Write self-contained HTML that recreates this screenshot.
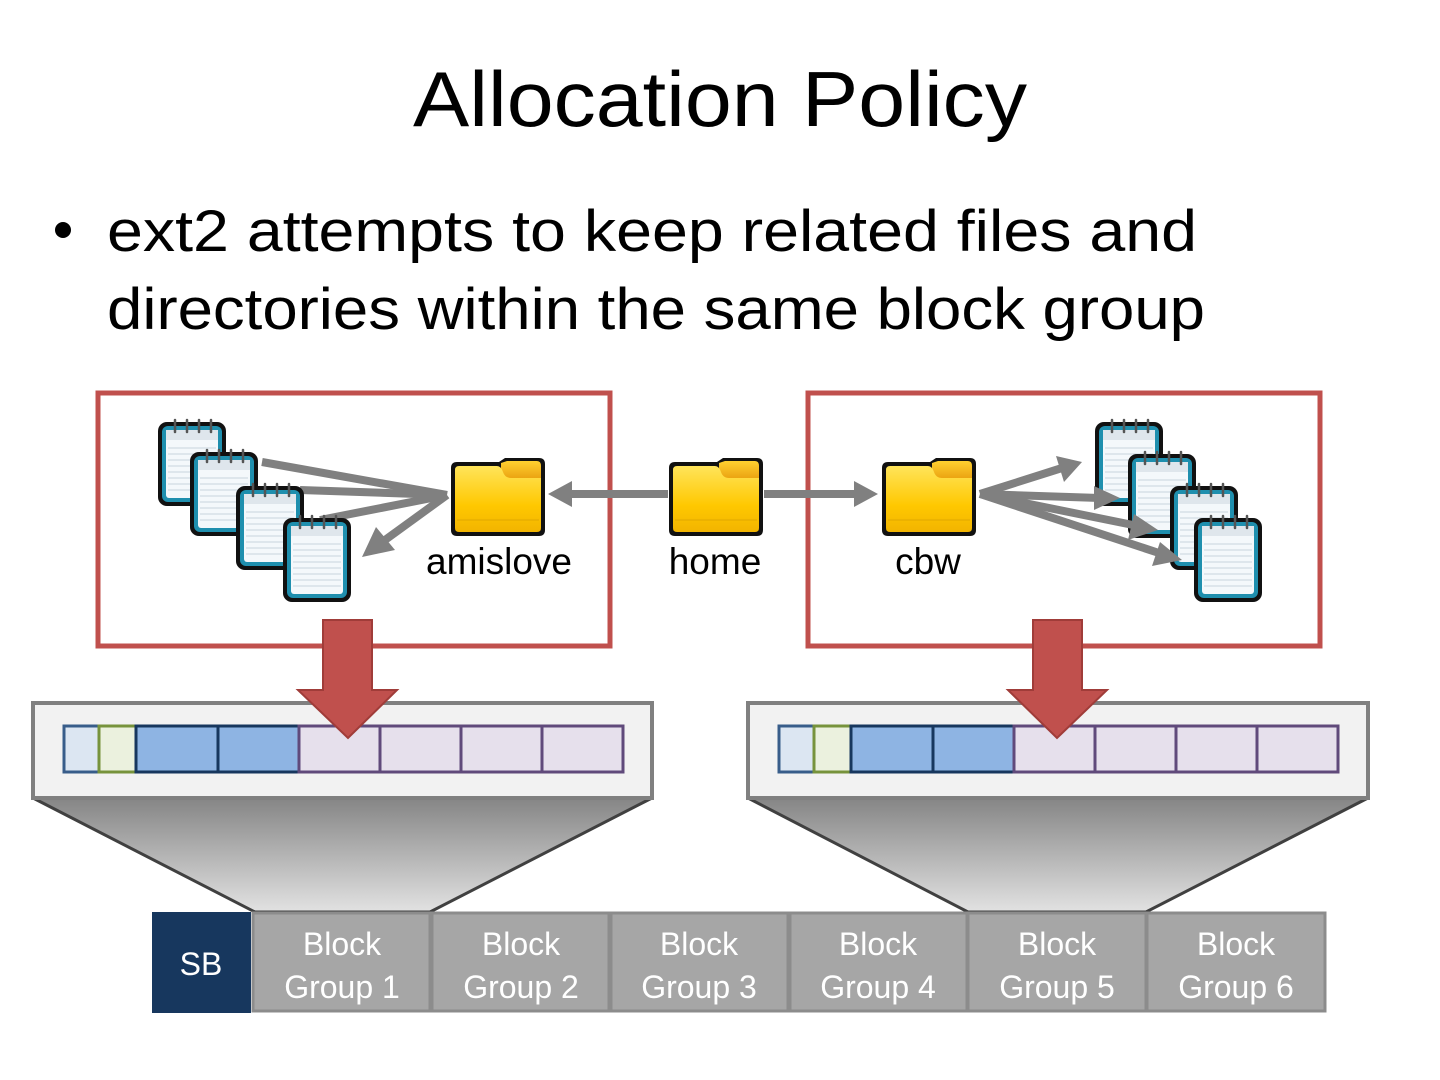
<!DOCTYPE html>
<html><head><meta charset="utf-8"><style>
html,body{margin:0;padding:0;background:#fff;width:1440px;height:1080px;overflow:hidden}
svg{display:block}
text{font-family:"Liberation Sans",sans-serif}
</style></head><body>
<svg width="1440" height="1080" viewBox="0 0 1440 1080" xmlns="http://www.w3.org/2000/svg">
<defs>
<linearGradient id="trap" x1="0" y1="0" x2="0" y2="1">
<stop offset="0" stop-color="#858585"/><stop offset="1" stop-color="#e2e2e2"/></linearGradient>
<linearGradient id="fold" x1="0" y1="0" x2="0" y2="1">
<stop offset="0" stop-color="#ffe45a"/><stop offset="0.6" stop-color="#ffc800"/><stop offset="1" stop-color="#f2b400"/></linearGradient>
<linearGradient id="tab" x1="0" y1="0" x2="0" y2="1">
<stop offset="0" stop-color="#ffd030"/><stop offset="1" stop-color="#e08a00"/></linearGradient>
<g id="note">
<rect x="0" y="4" width="68" height="84" rx="9" fill="#111"/>
<rect x="4" y="8" width="60" height="76" rx="6" fill="#1f8fae"/>
<rect x="8" y="12" width="52" height="68" rx="3" fill="#f4f8fb"/>
<rect x="8" y="12" width="52" height="10" fill="#dfe6ec"/>
<g stroke="#c8d4dc" stroke-width="1">
<line x1="10" y1="30" x2="58" y2="30"/><line x1="10" y1="36" x2="58" y2="36"/><line x1="10" y1="42" x2="58" y2="42"/><line x1="10" y1="48" x2="58" y2="48"/><line x1="10" y1="54" x2="58" y2="54"/><line x1="10" y1="60" x2="58" y2="60"/><line x1="10" y1="66" x2="58" y2="66"/><line x1="10" y1="72" x2="58" y2="72"/></g>
<g stroke="#555" stroke-width="2.5" stroke-linecap="round">
<line x1="17" y1="2" x2="17" y2="14"/><line x1="29" y1="2" x2="29" y2="14"/><line x1="41" y1="2" x2="41" y2="14"/><line x1="53" y1="2" x2="53" y2="14"/></g>
</g>
<g id="folder">
<path d="M2 10 Q2 4 8 4 L50 4 L56 0 L90 0 Q96 0 96 6 L96 72 Q96 78 90 78 L8 78 Q2 78 2 72 Z" fill="#111"/>
<path d="M52 5 L58 3 L88 3 Q92 3 92 8 L92 30 L52 30 Z" fill="url(#tab)"/>
<path d="M6 12 Q6 8 10 8 L48 8 Q52 8 54 14 Q56 20 62 20 L92 20 L92 70 Q92 74 88 74 L10 74 Q6 74 6 70 Z" fill="url(#fold)"/>
<line x1="8" y1="62" x2="90" y2="62" stroke="#e0a800" stroke-width="1"/>
</g>
</defs>

<text x="720" y="126" font-size="78" text-anchor="middle" textLength="614" lengthAdjust="spacingAndGlyphs" fill="#000">Allocation Policy</text>
<circle cx="63" cy="230" r="8" fill="#000"/>
<text x="107" y="251" font-size="58" textLength="1090" lengthAdjust="spacingAndGlyphs" fill="#000">ext2 attempts to keep related files and</text>
<text x="107" y="329" font-size="58" textLength="1098" lengthAdjust="spacingAndGlyphs" fill="#000">directories within the same block group</text>

<!-- red boxes -->
<rect x="98" y="393" width="512" height="253" fill="none" stroke="#c0504d" stroke-width="5"/>
<rect x="808" y="393" width="512" height="253" fill="none" stroke="#c0504d" stroke-width="5"/>

<!-- left arrows (behind notes) -->
<g stroke="#808080" stroke-width="8" fill="#808080">
<line x1="447" y1="495" x2="262" y2="462"/>
<line x1="447" y1="495" x2="300" y2="490"/>
<line x1="447" y1="495" x2="320" y2="520"/>
<line x1="447" y1="495" x2="385" y2="540"/>
</g>
<polygon points="362,557 376,527 395,550" fill="#808080"/>
<use href="#note" x="158" y="418"/>
<use href="#note" x="190" y="448"/>
<use href="#note" x="236" y="482"/>
<use href="#note" x="283" y="514"/>

<!-- home arrows -->
<line x1="568" y1="494" x2="668" y2="494" stroke="#808080" stroke-width="8"/>
<polygon points="548,494 572,481 572,507" fill="#808080"/>
<line x1="764" y1="494" x2="858" y2="494" stroke="#808080" stroke-width="8"/>
<polygon points="878,494 854,481 854,507" fill="#808080"/>

<use href="#folder" x="449" y="458"/>
<use href="#folder" x="667" y="458"/>
<use href="#folder" x="880" y="458"/>
<text x="499" y="574" font-size="37" text-anchor="middle" fill="#000">amislove</text>
<text x="715" y="574" font-size="37" text-anchor="middle" fill="#000">home</text>
<text x="928" y="574" font-size="37" text-anchor="middle" fill="#000">cbw</text>

<!-- right notes + arrows -->
<use href="#note" x="1095" y="418"/>
<g stroke="#808080" stroke-width="8">
<line x1="980" y1="494" x2="1062" y2="468"/>
<line x1="980" y1="494" x2="1100" y2="498"/>
</g>
<polygon points="1082,462 1056,456 1064,482" fill="#808080"/>
<polygon points="1120,498 1094,486 1094,510" fill="#808080"/>
<use href="#note" x="1128" y="450"/>
<g stroke="#808080" stroke-width="8">
<line x1="980" y1="494" x2="1138" y2="526"/>
</g>
<polygon points="1158,530 1134,514 1128,540" fill="#808080"/>
<use href="#note" x="1170" y="482"/>
<g stroke="#808080" stroke-width="8">
<line x1="980" y1="494" x2="1162" y2="554"/>
</g>
<polygon points="1182,560 1160,542 1152,566" fill="#808080"/>
<use href="#note" x="1194" y="514"/>

<!-- trapezoids -->
<polygon points="33,798 652,798 430,912 255,912" fill="url(#trap)" stroke="#404040" stroke-width="3"/>
<polygon points="748,798 1368,798 1146,912 968,912" fill="url(#trap)" stroke="#404040" stroke-width="3"/>

<!-- panels -->
<rect x="33" y="703" width="619" height="95" fill="#f2f2f2" stroke="#808080" stroke-width="4"/>
<rect x="748" y="703" width="620" height="95" fill="#f2f2f2" stroke="#808080" stroke-width="4"/>

<g stroke-width="3">
<rect x="64" y="726" width="35" height="46" fill="#dce6f2" stroke="#385d8a"/>
<rect x="99" y="726" width="37" height="46" fill="#ebf1de" stroke="#77933c"/>
<rect x="136" y="726" width="82" height="46" fill="#8eb4e3" stroke="#17375e"/>
<rect x="218" y="726" width="81" height="46" fill="#8eb4e3" stroke="#17375e"/>
<rect x="299" y="726" width="81" height="46" fill="#e6e0ec" stroke="#604a7b"/>
<rect x="380" y="726" width="81" height="46" fill="#e6e0ec" stroke="#604a7b"/>
<rect x="461" y="726" width="81" height="46" fill="#e6e0ec" stroke="#604a7b"/>
<rect x="542" y="726" width="81" height="46" fill="#e6e0ec" stroke="#604a7b"/>

<rect x="779" y="726" width="35" height="46" fill="#dce6f2" stroke="#385d8a"/>
<rect x="814" y="726" width="37" height="46" fill="#ebf1de" stroke="#77933c"/>
<rect x="851" y="726" width="82" height="46" fill="#8eb4e3" stroke="#17375e"/>
<rect x="933" y="726" width="81" height="46" fill="#8eb4e3" stroke="#17375e"/>
<rect x="1014" y="726" width="81" height="46" fill="#e6e0ec" stroke="#604a7b"/>
<rect x="1095" y="726" width="81" height="46" fill="#e6e0ec" stroke="#604a7b"/>
<rect x="1176" y="726" width="81" height="46" fill="#e6e0ec" stroke="#604a7b"/>
<rect x="1257" y="726" width="81" height="46" fill="#e6e0ec" stroke="#604a7b"/>
</g>

<!-- red down arrows -->
<polygon points="323,620 372,620 372,690 397,690 348,738 298,690 323,690" fill="#c0504d" stroke="#a03c39" stroke-width="2"/>
<polygon points="1033,620 1082,620 1082,690 1107,690 1057,738 1008,690 1033,690" fill="#c0504d" stroke="#a03c39" stroke-width="2"/>

<!-- bottom bar -->
<rect x="152" y="912" width="99" height="101" fill="#17375e"/>
<text x="201" y="975" font-size="32" text-anchor="middle" fill="#fff">SB</text>
<g fill="#a6a6a6" stroke="#8c8c8c" stroke-width="3">
<rect x="253" y="913" width="177" height="98"/>
<rect x="432" y="913" width="177" height="98"/>
<rect x="611" y="913" width="177" height="98"/>
<rect x="790" y="913" width="177" height="98"/>
<rect x="968" y="913" width="178" height="98"/>
<rect x="1147" y="913" width="178" height="98"/>
</g>
<g font-size="32" fill="#fff" text-anchor="middle">
<text x="342" y="955">Block</text><text x="342" y="998">Group 1</text>
<text x="521" y="955">Block</text><text x="521" y="998">Group 2</text>
<text x="699" y="955">Block</text><text x="699" y="998">Group 3</text>
<text x="878" y="955">Block</text><text x="878" y="998">Group 4</text>
<text x="1057" y="955">Block</text><text x="1057" y="998">Group 5</text>
<text x="1236" y="955">Block</text><text x="1236" y="998">Group 6</text>
</g>
</svg>
</body></html>
